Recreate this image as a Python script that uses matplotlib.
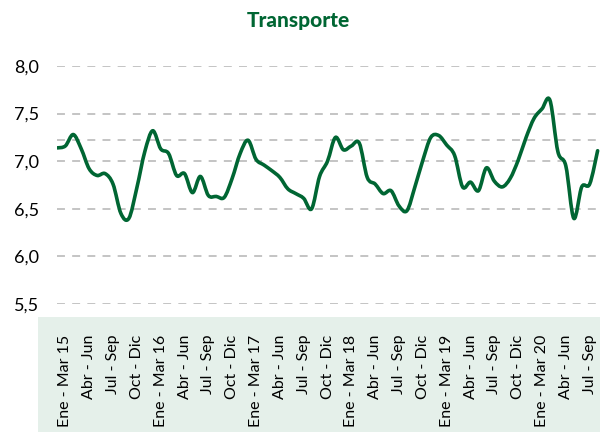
import matplotlib.pyplot as plt
from matplotlib.patches import Rectangle, PathPatch
from matplotlib.path import Path

# mensual, ene 2015 - sep 2020
valores = [
    7.14, 7.16, 7.28, 7.13, 6.92, 6.85, 6.87, 6.76, 6.45, 6.40,
    6.72, 7.10, 7.32, 7.13, 7.08, 6.85, 6.87, 6.67, 6.84, 6.64,
    6.63, 6.62, 6.82, 7.08, 7.22, 7.02, 6.96, 6.90, 6.83, 6.71,
    6.66, 6.61, 6.50, 6.84, 7.00, 7.25, 7.12, 7.16, 7.19, 6.83,
    6.76, 6.66, 6.69, 6.53, 6.48, 6.73, 7.01, 7.25, 7.27, 7.17,
    7.06, 6.73, 6.78, 6.69, 6.93, 6.79, 6.73, 6.82, 7.01, 7.25,
    7.45, 7.55, 7.64, 7.10, 6.95, 6.40, 6.73, 6.76, 7.11,
]
trimestres = ["Ene - Mar", "Abr - Jun", "Jul - Sep", "Oct - Dic"]
anios = ["15", "16", "17", "18", "19", "20"]
linea_ref = 7.22

etiquetas = []
for a in anios:
    for t in trimestres:
        etiquetas.append(t + " " + a if t == "Ene - Mar" else t)
etiquetas = etiquetas[:23]

verde = "#006633"
gris = "#bfbfbf"
plt.rcParams['font.family'] = ['Lato', 'DejaVu Sans']


def curva_suave(xs, ys, t=0.5):
    # segmentos Bezier cubicos tipo Catmull-Rom entre puntos consecutivos
    verts = [(xs[0], ys[0])]
    codes = [Path.MOVETO]
    n = len(xs)
    for i in range(n - 1):
        x0, y0 = (xs[i - 1], ys[i - 1]) if i > 0 else (xs[i], ys[i])
        x1, y1 = xs[i], ys[i]
        x2, y2 = xs[i + 1], ys[i + 1]
        x3, y3 = (xs[i + 2], ys[i + 2]) if i + 2 < n else (x2, y2)
        c1 = (x1 + (x2 - x0) * t / 3, y1 + (y2 - y0) * t / 3)
        c2 = (x2 - (x3 - x1) * t / 3, y2 - (y3 - y1) * t / 3)
        verts += [c1, c2, (x2, y2)]
        codes += [Path.CURVE4] * 3
    return Path(verts, codes)


fig = plt.figure(figsize=(6.08, 4.33), dpi=100)
fig.patches.append(Rectangle((38 / 608, 1 - 432 / 433), (600 - 38) / 608, (432 - 317) / 433,
                             transform=fig.transFigure, facecolor="#e5f0ea",
                             edgecolor="none", zorder=-1))
ax = fig.add_axes([57 / 608, 1 - 304 / 433, (600 - 57) / 608, (304 - 66) / 433])
ax.set_facecolor("none")

x = list(range(len(valores)))
ax.add_patch(PathPatch(curva_suave(x, valores), facecolor="none", edgecolor=verde,
                       linewidth=2.6, joinstyle="round", capstyle="round", zorder=3))

for v in [5.5, 6.0, 6.5, 7.0, 7.5, 8.0, linea_ref]:
    ax.axhline(v, color=gris, linewidth=1.3, dashes=(4.4, 4), zorder=1)

ax.set_ylim(5.5, 8.0)
ax.set_xlim(-0.05, 68.3)
ax.set_yticks([5.5, 6.0, 6.5, 7.0, 7.5, 8.0])
ax.set_yticklabels([f"{v:.1f}".replace(".", ",") for v in [5.5, 6.0, 6.5, 7.0, 7.5, 8.0]],
                   fontsize=13)
ax.set_xticks([3 * k + 1 for k in range(len(etiquetas))])
ax.set_xticklabels(etiquetas, rotation=90, fontsize=11.5)
ax.tick_params(axis="y", length=0, pad=13)
ax.tick_params(axis="x", length=0, pad=22)
for s in ax.spines.values():
    s.set_visible(False)

fig.text(0.49, 1 - 20 / 433, "Transporte", ha="center", va="center",
         fontsize=15, fontweight="black", color=verde)

fig.savefig("out.png", dpi=100)
